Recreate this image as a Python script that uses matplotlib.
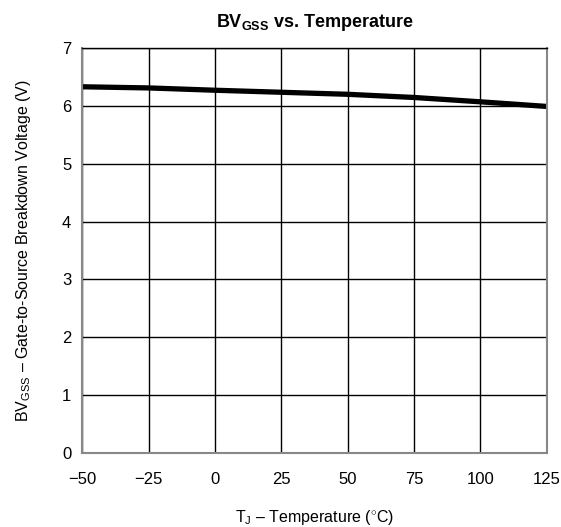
import matplotlib
matplotlib.use("Agg")
import matplotlib.pyplot as plt

# Data
temp = [-50, -25, 0, 25, 50, 75, 100, 125]
bvgss = [6.33, 6.31, 6.27, 6.235, 6.20, 6.145, 6.07, 5.99]

xticks = [-50, -25, 0, 25, 50, 75, 100, 125]
yticks = [0, 1, 2, 3, 4, 5, 6, 7]

plt.rcParams['font.family'] = ['Liberation Sans', 'DejaVu Sans']
plt.rcParams['mathtext.fontset'] = 'custom'
plt.rcParams['mathtext.rm'] = 'Liberation Sans'
plt.rcParams['mathtext.bf'] = 'Liberation Sans:bold'

fig = plt.figure(figsize=(5.61, 5.27), dpi=100)
ax = fig.add_axes([0.1467, 0.1404, 0.828, 0.7685])

ax.plot(temp, bvgss, color='black', linewidth=3.8, solid_capstyle='butt')

ax.set_xlim(-50, 125)
ax.set_ylim(0, 7)
ax.set_xticks(xticks)
ax.set_yticks(yticks)
ax.set_xticklabels([str(t).replace('-', '\u2212') for t in xticks])
ax.grid(True, color='black', linewidth=1.0)
ax.tick_params(length=0, labelsize=12)
ax.tick_params(axis='x', pad=14)
ax.tick_params(axis='y', pad=8)
for s in ax.spines.values():
    s.set_color('#888888')
    s.set_linewidth(1.5)
ax.spines['top'].set_color('black')
ax.spines['top'].set_linewidth(1.0)

ax.set_title(r'BV$_{\mathbf{GSS}}$ vs. Temperature', fontsize=13, fontweight='bold', pad=15)
ax.set_xlabel(r'T$_{\mathrm{J}}$ – Temperature ($^{\circ}$C)', fontsize=11.5, labelpad=15)
ax.set_ylabel(r'BV$_{\mathrm{GSS}}$ – Gate-to-Source Breakdown Voltage (V)', fontsize=11.5, labelpad=21)

fig.savefig('out.png', dpi=100)
